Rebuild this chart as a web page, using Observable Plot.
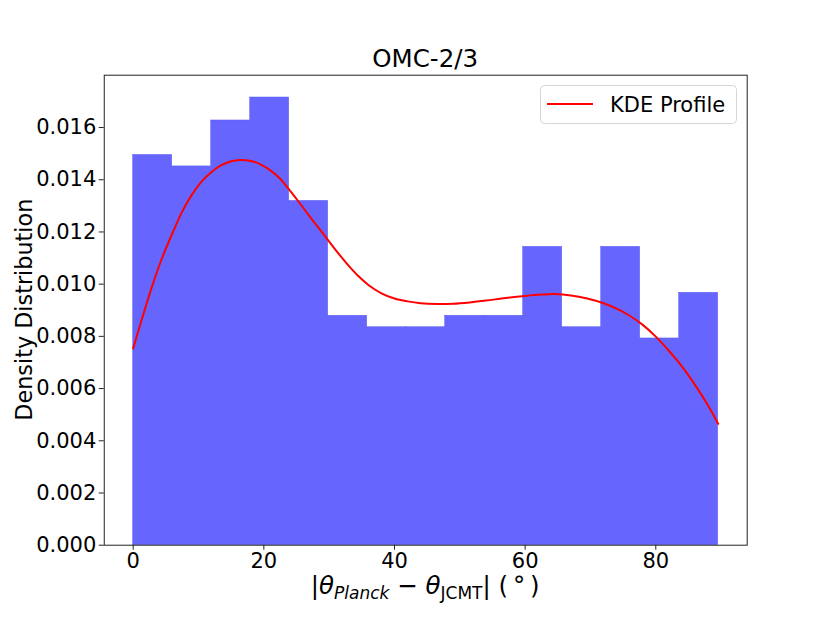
<!DOCTYPE html>
<html>
<head>
<meta charset="utf-8">
<script src="https://cdn.jsdelivr.net/npm/d3@7"></script>
<script src="https://cdn.jsdelivr.net/npm/@observablehq/plot@0.6"></script>
<style>
  html, body { margin: 0; padding: 0; background: white; }
  svg { display: block; }
</style>
</head>
<body>
<div id="chart"></div>
<script>
// ---- Data ----
const chartTitle = "OMC-2/3";
const yLabel = "Density Distribution";
const legendLabel = "KDE Profile";

// histogram bin left edges (degrees) and bin width
const binLeft = [0, 5.97, 11.94, 17.91, 23.88, 29.85, 35.82, 41.79, 47.76, 53.73, 59.7, 65.67, 71.64, 77.61, 83.58];
const binWidth = 5.97;
// density of each bin
const binDensity = [0.01495, 0.01451, 0.01627, 0.01715, 0.01319, 0.00879, 0.00835, 0.00835, 0.00879, 0.00879, 0.01143, 0.00835, 0.01143, 0.00792, 0.00967];

// KDE profile samples
const kdeX = [0, 1.5, 3, 4.5, 6, 7.5, 9, 10.5, 12, 13.5, 15, 16.3, 18, 19.5, 21, 22.5, 24, 25.5, 27, 28.5, 30, 31.5, 33, 34.5, 36, 38, 40, 42, 44, 46.5, 49, 51.5, 54, 57, 60, 62.5, 64.6, 67, 69.5, 72, 74, 76, 78, 80, 82, 84, 86, 88, 89.55];
const kdeY = [0.00754, 0.00880, 0.01000, 0.01105, 0.01195, 0.01278, 0.01343, 0.01394, 0.01430, 0.01456, 0.01471, 0.01476, 0.01472, 0.01459, 0.01436, 0.01404, 0.01358, 0.01310, 0.01260, 0.01212, 0.01163, 0.01115, 0.01070, 0.01030, 0.00997, 0.00965, 0.00945, 0.00934, 0.00927, 0.00924, 0.00925, 0.00930, 0.00937, 0.00947, 0.00955, 0.00960, 0.00962, 0.00957, 0.00945, 0.00927, 0.00906, 0.00879, 0.00844, 0.00799, 0.00745, 0.00685, 0.00614, 0.00535, 0.00465];

const xTicks = [0, 20, 40, 60, 80];
const yTicks = [0, 0.002, 0.004, 0.006, 0.008, 0.010, 0.012, 0.014, 0.016];

// ---- Build tables ----
const bins = binLeft.map((lo, i) => ({lo, hi: lo + binWidth, density: binDensity[i]}));
const kde = kdeX.map((x, i) => ({x, y: kdeY[i]}));

const W = 830, H = 623;
const mL = 103.75, mR = 83.3, mT = 74.7, mB = 78.3;
const font = "DejaVu Sans, Verdana, sans-serif";

const svg = Plot.plot({
  width: W,
  height: H,
  marginLeft: mL,
  marginRight: mR,
  marginTop: mT,
  marginBottom: mB,
  style: {fontFamily: font, fontSize: "21px", color: "black", background: "white", overflow: "visible"},
  x: {domain: [-4.43, 93.99]},
  y: {domain: [0, 0.018005]},
  marks: [
    Plot.rectY(bins, {x1: "lo", x2: "hi", y1: 0, y2: "density", fill: "#6666ff", stroke: "#5c5cf2", strokeWidth: 0.5}),
    Plot.line(kde, {x: "x", y: "y", stroke: "#ff0000", strokeWidth: 2, curve: "catmull-rom"}),
    Plot.axisX({ticks: xTicks, tickSize: 5, tickPadding: 3, label: null, fontSize: 21, stroke: "#222"}),
    Plot.axisY({ticks: yTicks, tickFormat: d3.format(".3f"), tickSize: 5, tickPadding: 3, label: null, fontSize: 21, stroke: "#222"}),
    Plot.frame({stroke: "#222", strokeWidth: 1})
  ]
});

document.getElementById("chart").appendChild(svg);

const s = d3.select(svg);
const cx = mL + (W - mL - mR) / 2;

// Title
s.append("text")
  .attr("x", cx).attr("y", 67)
  .attr("text-anchor", "middle")
  .attr("font-family", font)
  .attr("font-size", 24.5)
  .attr("fill", "black")
  .text(chartTitle);

// Y label
s.append("text")
  .attr("transform", `translate(32,${mT + (H - mT - mB) / 2}) rotate(-90)`)
  .attr("text-anchor", "middle")
  .attr("font-family", font)
  .attr("font-size", 22.3)
  .attr("fill", "black")
  .text(yLabel);

// X label with math
const xl = s.append("text")
  .attr("x", cx).attr("y", 594)
  .attr("text-anchor", "middle")
  .attr("font-family", font)
  .attr("font-size", 24.5)
  .attr("fill", "black");
xl.append("tspan").text("|");
xl.append("tspan").attr("font-style", "italic").text("θ");
xl.append("tspan").attr("font-style", "italic").attr("font-size", 17).attr("dy", 5).text("Planck");
xl.append("tspan").attr("dy", -5).text(" − ");
xl.append("tspan").attr("font-style", "italic").text("θ");
xl.append("tspan").attr("font-size", 17).attr("dy", 5).text("JCMT");
xl.append("tspan").attr("dy", -5).text("| (\u2009°\u2009)");

// Legend
const lg = s.append("g");
lg.append("rect")
  .attr("x", 540.5).attr("y", 85.5).attr("width", 196).attr("height", 38)
  .attr("rx", 4).attr("ry", 4)
  .attr("fill", "white").attr("fill-opacity", 0.8)
  .attr("stroke", "#d6d6d6").attr("stroke-width", 1);
lg.append("line")
  .attr("x1", 547).attr("x2", 593).attr("y1", 104).attr("y2", 104)
  .attr("stroke", "#ff0000").attr("stroke-width", 2);
lg.append("text")
  .attr("x", 610).attr("y", 104).attr("dy", "0.36em")
  .attr("text-anchor", "start")
  .attr("font-family", font)
  .attr("font-size", 21)
  .attr("fill", "black")
  .text(legendLabel);
</script>
</body>
</html>
